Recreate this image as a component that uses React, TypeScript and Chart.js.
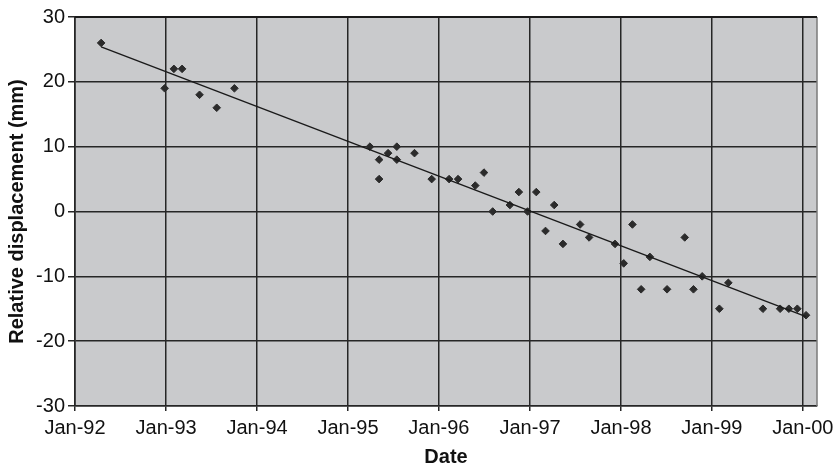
import React, { useEffect, useRef } from "react";
import { Chart, registerables } from "chart.js";
Chart.register(...registerables);

const pointDates = [
  "1992-04-15", "1992-12-26", "1993-02-01", "1993-03-06", "1993-05-15", "1993-07-23", "1993-10-02",
  "1995-03-30", "1995-05-06", "1995-05-06", "1995-06-11", "1995-07-16", "1995-07-16", "1995-09-25",
  "1995-12-03", "1996-02-11", "1996-03-18", "1996-05-26", "1996-06-30", "1996-08-04", "1996-10-12",
  "1996-11-17", "1996-12-22", "1997-01-26", "1997-03-04", "1997-04-08", "1997-05-13", "1997-07-21",
  "1997-08-26", "1997-12-08", "1998-01-12", "1998-02-16", "1998-03-23", "1998-04-27", "1998-07-05",
  "1998-09-14", "1998-10-19", "1998-11-23", "1999-01-31", "1999-03-08", "1999-07-25", "1999-10-02",
  "1999-11-06", "1999-12-10", "2000-01-14",
];
const displacement = [
  26, 19, 22, 22, 18, 16, 19,
  10, 8, 5, 9, 10, 8, 9,
  5, 5, 5, 4, 6, 0, 1,
  3, 0, 3, -3, 1, -5, -2,
  -4, -5, -8, -2, -12, -7, -12,
  -4, -12, -10, -15, -11, -15, -15,
  -15, -15, -16,
];
const trendDates = ["1992-04-15", "2000-01-14"];
const trendValues = [25.4, -16.2];
const xTickDates = ["1992-01-01", "1993-01-01", "1994-01-01", "1995-01-01", "1996-01-01", "1997-01-01", "1998-01-01", "1999-01-01", "2000-01-01"];
const xTickLabels = ["Jan-92", "Jan-93", "Jan-94", "Jan-95", "Jan-96", "Jan-97", "Jan-98", "Jan-99", "Jan-00"];
const xAxisRange = ["1992-01-01", "2000-02-27"];
const yTickValues = [-30, -20, -10, 0, 10, 20, 30];
const yTitle = "Relative displacement (mm)";
const xTitle = "Date";

const toMs = (s: string) => Date.parse(s + "T00:00:00Z");

const FONT = "'Liberation Sans', Arial, sans-serif";
const GRID = "#262626";

export default function App() {
  const ref = useRef<HTMLCanvasElement | null>(null);
  useEffect(() => {
    if (!ref.current) return;
    const bgPlugin = {
      id: "plotbg",
      beforeDraw(chart: any) {
        const { ctx, chartArea: a } = chart;
        ctx.save();
        ctx.fillStyle = "#c9cacc";
        ctx.fillRect(a.left, a.top, a.right - a.left, a.bottom - a.top);
        ctx.restore();
      },
      afterDraw(chart: any) {
        const { ctx, chartArea: a } = chart;
        ctx.save();
        ctx.strokeStyle = "#7a7a7a";
        ctx.lineWidth = 1.5;
        ctx.beginPath();
        ctx.moveTo(a.right, a.top);
        ctx.lineTo(a.right, a.bottom);
        ctx.stroke();
        ctx.strokeStyle = "#1a1a1a";
        ctx.lineWidth = 2;
        ctx.beginPath();
        ctx.moveTo(a.left, a.top);
        ctx.lineTo(a.right, a.top);
        ctx.stroke();
        ctx.restore();
      },
    };
    const chart = new Chart(ref.current, {
      type: "scatter",
      data: {
        datasets: [
          {
            type: "line",
            data: trendDates.map((d, i) => ({ x: toMs(d), y: trendValues[i] })),
            borderColor: "#1a1a1a",
            borderWidth: 1.4,
            pointRadius: 0,
            fill: false,
          } as any,
          {
            data: pointDates.map((d, i) => ({ x: toMs(d), y: displacement[i] })),
            pointStyle: "rectRot",
            pointRadius: 3.8,
            pointBackgroundColor: "#2b2b2b",
            pointBorderColor: "#2b2b2b",
            pointBorderWidth: 1,
          },
        ],
      },
      options: {
        responsive: false,
        animation: false,
        layout: { padding: { top: 17, right: 22, left: 0, bottom: 0 } },
        plugins: { legend: { display: false }, tooltip: { enabled: false } },
        scales: {
          x: {
            type: "linear",
            min: toMs(xAxisRange[0]),
            max: toMs(xAxisRange[1]),
            afterBuildTicks: (scale: any) => {
              scale.ticks = xTickDates.map((d) => ({ value: toMs(d) }));
            },
            afterFit: (scale: any) => {
              scale.height = 61;
            },
            ticks: {
              autoSkip: false,
              maxRotation: 0,
              padding: 5,
              color: "#111",
              font: { family: FONT, size: 20 },
              callback: (_v: any, i: number) => xTickLabels[i],
            },
            grid: { color: GRID, lineWidth: 1.5, tickLength: 5 },
            border: { color: GRID, width: 1.6 },
            title: {
              display: true,
              text: xTitle,
              color: "#111",
              font: { family: FONT, size: 20, weight: "bold" },
              padding: { top: 0, bottom: -2 },
            },
          },
          y: {
            min: -30,
            max: 30,
            afterBuildTicks: (scale: any) => {
              scale.ticks = yTickValues.map((v) => ({ value: v }));
            },
            afterFit: (scale: any) => {
              scale.width = 75;
            },
            ticks: {
              padding: 3,
              color: "#111",
              font: { family: FONT, size: 20 },
              callback: (v: any) => String(v),
            },
            grid: { color: GRID, lineWidth: 1.5, tickLength: 7 },
            border: { color: GRID, width: 1.6 },
            title: {
              display: true,
              text: yTitle,
              color: "#111",
              font: { family: FONT, size: 20, weight: "bold" },
              padding: { top: 5, bottom: 0 },
            },
          },
        },
      },
      plugins: [bgPlugin],
    } as any);
    return () => chart.destroy();
  }, []);
  return (
    <div style={{ position: "absolute", left: 0, top: 0, width: 839, height: 467, background: "#fff" }}>
      <canvas ref={ref} width={839} height={467} />
    </div>
  );
}
